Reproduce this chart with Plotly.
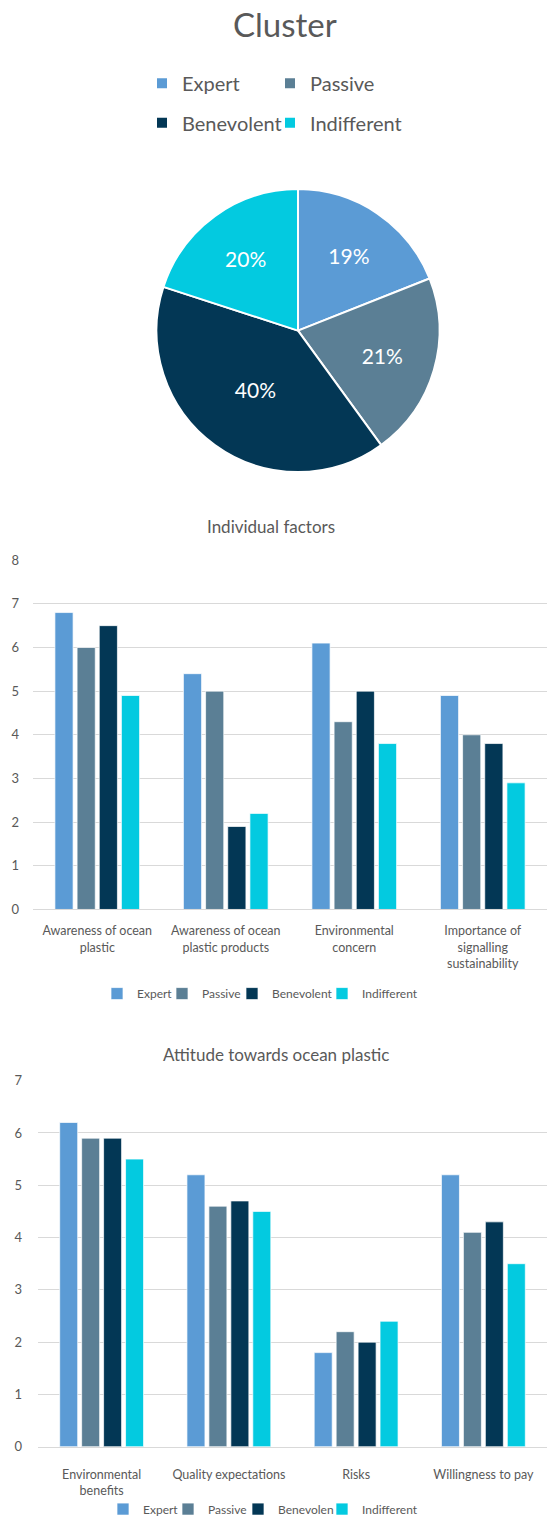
import plotly.graph_objects as go

W, H = 547, 1527

# Cluster shares
clusters = ["Expert", "Passive", "Benevolent", "Indifferent"]
cluster_share = [19, 21, 40, 20]
colors = ["#5B9BD5", "#5B7F95", "#033755", "#03CAE0"]

# Individual factors (mean scores per cluster)
factor_labels = [
    "Awareness of ocean<br>plastic",
    "Awareness of ocean<br>plastic products",
    "Environmental<br>concern",
    "Importance of<br>signalling<br>sustainability",
]
factor_expert = [6.8, 5.4, 6.1, 4.9]
factor_passive = [6.0, 5.0, 4.3, 4.0]
factor_benevolent = [6.5, 1.9, 5.0, 3.8]
factor_indifferent = [4.9, 2.2, 3.8, 2.9]

# Attitude towards ocean plastic (mean scores per cluster)
attitude_labels = [
    "Environmental<br>benefits",
    "Quality expectations",
    "Risks",
    "Willingness to pay",
]
attitude_expert = [6.2, 5.2, 1.8, 5.2]
attitude_passive = [5.9, 4.6, 2.2, 4.1]
attitude_benevolent = [5.9, 4.7, 2.0, 4.3]
attitude_indifferent = [5.5, 4.5, 2.4, 3.5]
attitude_names = ["Expert", "Passive", "Benevolen", "Indifferent"]

FONT = "Lato"
GREY = "#595959"
GRID = "#D9D9D9"


def px_x(x):
    return x / W


def px_y(y):
    return 1 - y / H


def legend_box(text_x, y, size):
    # one legend entry, placed by the left edge of its label text
    return dict(orientation="h", x=px_x(text_x - 41), y=px_y(y),
                xanchor="left", yanchor="middle",
                font=dict(family=FONT, size=size, color=GREY),
                bgcolor="rgba(0,0,0,0)")


fig = go.Figure()

# Pie of cluster sizes
fig.add_trace(go.Pie(
    labels=clusters, values=cluster_share, sort=False, direction="clockwise",
    rotation=0, marker=dict(colors=colors, line=dict(color="white", width=2)),
    texttemplate="%{percent:.0%}", textposition="inside",
    insidetextorientation="horizontal",
    textfont=dict(color="white", size=21, family=FONT),
    domain=dict(x=[px_x(155), px_x(441)], y=[px_y(469), px_y(183)]),
    showlegend=False, hoverinfo="label+percent",
))

# Legend entries for the pie (2 x 2 grid), on a hidden helper axis
pie_legend_ids = ["legend", "legend2", "legend3", "legend4"]
for i, name in enumerate(clusters):
    fig.add_trace(go.Scatter(
        x=[None], y=[None], mode="markers", name=name,
        marker=dict(symbol="square", size=10, color=colors[i]),
        legend=pie_legend_ids[i], xaxis="x3", yaxis="y3", hoverinfo="skip",
    ))

factor_legend_ids = ["legend5", "legend6", "legend7", "legend8"]
factor_series = [factor_expert, factor_passive, factor_benevolent, factor_indifferent]
for i, vals in enumerate(factor_series):
    fig.add_trace(go.Bar(
        x=factor_labels, y=vals, name=clusters[i], marker_color=colors[i],
        marker_line=dict(color="rgba(255,255,255,0.7)", width=1),
        xaxis="x", yaxis="y", legend=factor_legend_ids[i],
    ))

attitude_legend_ids = ["legend9", "legend10", "legend11", "legend12"]
attitude_series = [attitude_expert, attitude_passive, attitude_benevolent, attitude_indifferent]
for i, vals in enumerate(attitude_series):
    fig.add_trace(go.Bar(
        x=attitude_labels, y=vals, name=attitude_names[i], marker_color=colors[i],
        marker_line=dict(color="rgba(255,255,255,0.7)", width=1),
        xaxis="x2", yaxis="y2", legend=attitude_legend_ids[i],
    ))

ytick_font = dict(family=FONT, size=13, color=GREY)
xtick_font = dict(family=FONT, size=12.5, color=GREY)

legends = {}
for lid, tx, ty in zip(pie_legend_ids, [183, 311, 183, 311], [76, 76, 116, 116]):
    legends[lid] = legend_box(tx, ty, 20)
for lid, tx in zip(factor_legend_ids, [138, 203, 273, 363]):
    legends[lid] = legend_box(tx, 996, 12)
for lid, tx in zip(attitude_legend_ids, [144, 209, 279, 363]):
    legends[lid] = legend_box(tx, 1517, 12)

fig.update_layout(
    width=W, height=H, autosize=False,
    margin=dict(l=0, r=0, t=0, b=0),
    paper_bgcolor="white", plot_bgcolor="white",
    font=dict(family=FONT, color=GREY),
    barmode="group", bargap=0.31, bargroupgap=0.18,
    xaxis=dict(domain=[px_x(33), 1], type="category", showgrid=False,
               showline=True, linecolor=GRID, linewidth=1, ticks="",
               ticklabelstandoff=10, anchor="y", tickfont=xtick_font,
               fixedrange=True),
    yaxis=dict(domain=[px_y(911), px_y(558)], range=[0, 8], dtick=1,
               showgrid=True, gridcolor=GRID, zeroline=False, showline=False,
               ticks="", ticklabelstandoff=13, anchor="x", tickfont=ytick_font,
               fixedrange=True),
    xaxis2=dict(domain=[px_x(38), 1], type="category", showgrid=False,
                showline=True, linecolor=GRID, linewidth=1, ticks="",
                ticklabelstandoff=16, anchor="y2", tickfont=xtick_font,
                fixedrange=True),
    yaxis2=dict(domain=[px_y(1454), px_y(1084)], range=[0, 7], dtick=1,
                showgrid=True, gridcolor=GRID, zeroline=False, showline=False,
                ticks="", ticklabelstandoff=15, anchor="x2", tickfont=ytick_font,
                fixedrange=True),
    xaxis3=dict(domain=[0, 0.01], visible=False, anchor="y3"),
    yaxis3=dict(domain=[0.99, 1], visible=False, anchor="x3"),
    annotations=[
        dict(text="Cluster", x=px_x(285), y=px_y(16), xref="paper", yref="paper",
             yanchor="middle", showarrow=False,
             font=dict(family=FONT, size=33, color=GREY)),
        dict(text="Individual factors", x=px_x(271), y=px_y(524), xref="paper",
             yref="paper", yanchor="middle", showarrow=False,
             font=dict(family=FONT, size=17, color=GREY)),
        dict(text="Attitude towards ocean plastic", x=px_x(276), y=px_y(1058),
             xref="paper", yref="paper", yanchor="middle", showarrow=False,
             font=dict(family=FONT, size=17, color=GREY)),
    ],
    **legends,
)

fig.write_html("out.html")
